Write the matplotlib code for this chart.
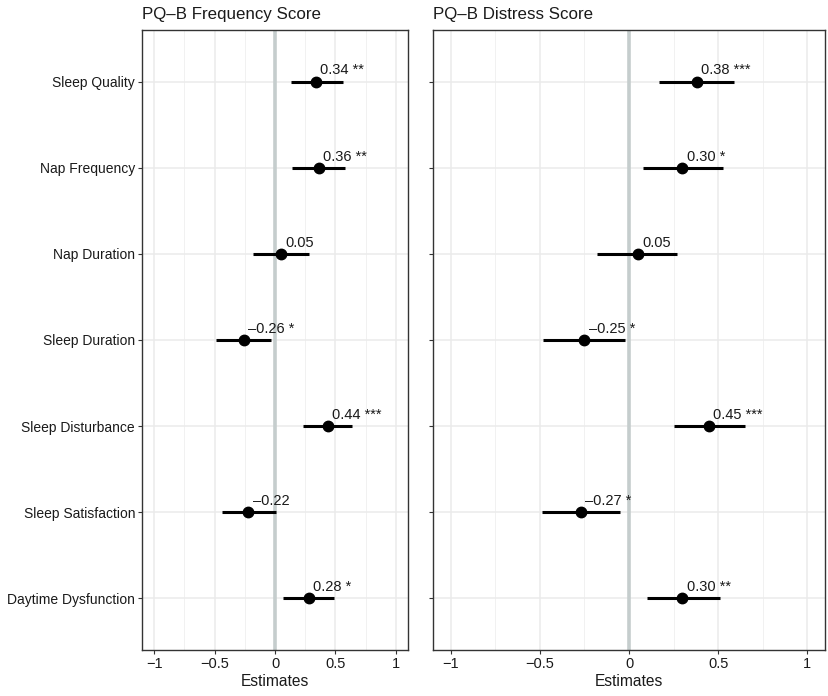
import matplotlib
matplotlib.use("Agg")
import matplotlib.pyplot as plt
from matplotlib.ticker import FixedLocator

plt.rcParams['font.family'] = ['Liberation Sans', 'DejaVu Sans']

categories = ["Sleep Quality", "Nap Frequency", "Nap Duration", "Sleep Duration",
              "Sleep Disturbance", "Sleep Satisfaction", "Daytime Dysfunction"]

freq_est = [0.34, 0.36, 0.05, -0.26, 0.44, -0.22, 0.28]
freq_lo = [0.13, 0.14, -0.18, -0.49, 0.23, -0.44, 0.07]
freq_hi = [0.56, 0.58, 0.28, -0.03, 0.64, 0.01, 0.49]
freq_sig = ["**", "**", "", "*", "***", "", "*"]

dist_est = [0.38, 0.30, 0.05, -0.25, 0.45, -0.27, 0.30]
dist_lo = [0.17, 0.08, -0.18, -0.48, 0.25, -0.49, 0.10]
dist_hi = [0.59, 0.53, 0.27, -0.02, 0.65, -0.05, 0.51]
dist_sig = ["***", "*", "", "*", "***", "*", "**"]

titles = ["PQ\u2013B Frequency Score", "PQ\u2013B Distress Score"]
xticks = [-1, -0.5, 0, 0.5, 1]
xticklabels = ["\u22121", "\u22120.5", "0", "0.5", "1"]

fig = plt.figure(figsize=(8.29, 6.96), dpi=100)
axL = fig.add_axes([0.1713, 0.0661, 0.3209, 0.8908])
axR = fig.add_axes([0.5223, 0.0661, 0.4729, 0.8908])

panels = [(axL, freq_est, freq_lo, freq_hi, freq_sig, titles[0], True),
          (axR, dist_est, dist_lo, dist_hi, dist_sig, titles[1], False)]

ypos = list(range(1, len(categories) + 1))

for ax, est, lo, hi, sig, title, show_labels in panels:
    ax.set_xlim(-1.1, 1.1)
    ax.set_ylim(7.6, 0.4)
    ax.xaxis.set_major_locator(FixedLocator(xticks))
    ax.set_xticklabels(xticklabels, fontsize=10.5, color='#1a1a1a')
    ax.xaxis.set_minor_locator(FixedLocator([-0.75, -0.25, 0.25, 0.75]))
    ax.set_yticks(ypos)
    if show_labels:
        ax.set_yticklabels(categories, fontsize=10, color='#1a1a1a')
    else:
        ax.set_yticklabels([])
    ax.grid(True, which='major', color='#EBEBEB', linewidth=1.1, zorder=0)
    ax.grid(True, which='minor', axis='x', color='#EFEFEF', linewidth=0.6, zorder=0)
    ax.set_axisbelow(True)
    ax.tick_params(axis='both', which='major', length=3, width=0.8, color='#333333', pad=2)
    ax.tick_params(axis='x', which='minor', length=0)
    for sp in ax.spines.values():
        sp.set_color('#333333')
        sp.set_linewidth(1.0)
    ax.axvline(0, color='#C5CDCD', linewidth=2.6, zorder=1)
    for y, e, l, h, s in zip(ypos, est, lo, hi, sig):
        ax.plot([l, h], [y, y], color='black', linewidth=2.2, solid_capstyle='butt', zorder=3)
        ax.plot([e], [y], 'o', color='black', markersize=7.5, zorder=4)
        label = f"{e:.2f}".replace("-", "\u2013")
        if s:
            label = label + " " + s
        ax.annotate(label, xy=(e, y), xytext=(3, 3), textcoords='offset points',
                    ha='left', va='bottom', fontsize=10.5, color='#1a1a1a', zorder=5)
    ax.set_xlabel("Estimates", fontsize=11.2, color='#1a1a1a', labelpad=2)
    ax.set_title(title, loc='left', fontsize=12.2, color='#1a1a1a', pad=8)

fig.savefig("out.png", dpi=100)
